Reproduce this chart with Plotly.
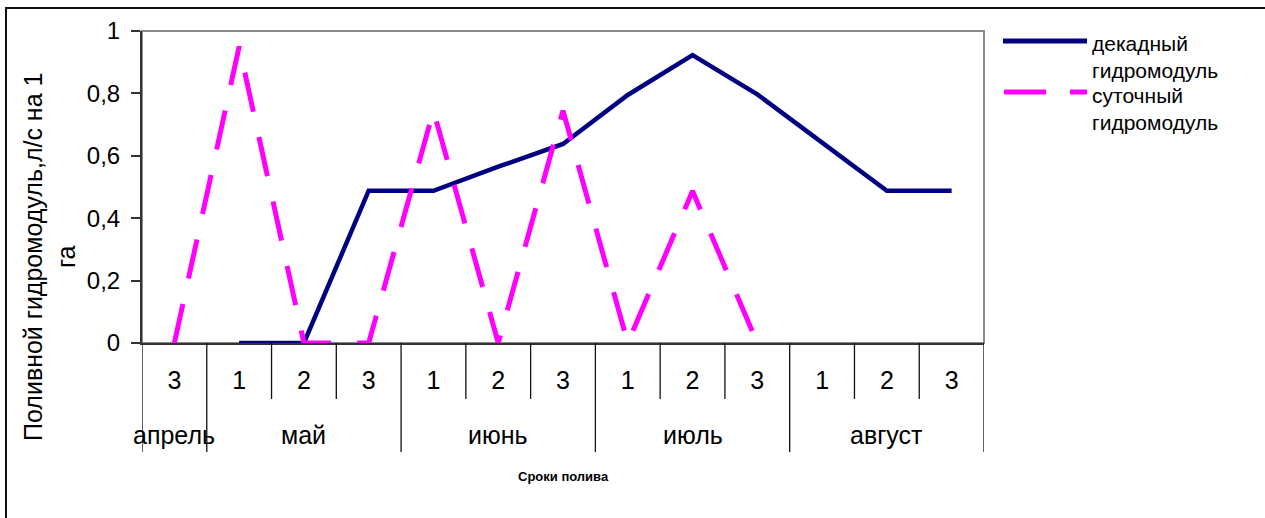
import plotly.graph_objects as go

# --- data -------------------------------------------------------------
months = ["апрель", "май", "июнь", "июль", "август"]
month_decades = [["3"], ["1", "2", "3"], ["1", "2", "3"], ["1", "2", "3"], ["1", "2", "3"]]
decade_labels = [d for group in month_decades for d in group]

# irrigation modulus, l/s per ha
decadal = [None, 0, 0, 0.488, 0.488, 0.565, 0.638, 0.795, 0.923, 0.797, 0.642, 0.488, 0.488]
daily = [0, 0.95, 0, 0, 0.745, 0, 0.745, 0, 0.487, 0, None, None, None]

y_ticks = [0, 0.2, 0.4, 0.6, 0.8, 1]

series_names = ["декадный<br>гидромодуль", "суточный<br>гидромодуль"]
x_title = "Сроки полива"
y_title = "Поливной гидромодуль,л/с на 1<br>га"

# --- geometry (pixels) ------------------------------------------------
W, H = 1265, 518
L, R, T, B = 142, 984, 31, 343

NAVY = "#000080"
MAGENTA = "#FF00FF"
FONT = "Arial, Liberation Sans, sans-serif"


def px_x(px):
    return (px - L) / (R - L)


def px_y(py):
    return (B - py) / (B - T)


x_idx = list(range(len(decade_labels)))

fig = go.Figure()
fig.add_trace(go.Scatter(
    x=x_idx, y=decadal, mode="lines", name="декадный гидромодуль",
    line=dict(color=NAVY, width=4.5), connectgaps=False, showlegend=False,
))
fig.add_trace(go.Scatter(
    x=x_idx, y=daily, mode="lines", name="суточный гидромодуль",
    line=dict(color=MAGENTA, width=5, dash="40px,26px"), connectgaps=False,
    showlegend=False,
))

shapes = []
# outer chart border
shapes.append(dict(type="rect", xref="paper", yref="paper",
                   x0=px_x(6), x1=px_x(1300), y0=px_y(600), y1=px_y(8),
                   line=dict(color="#111111", width=2), layer="below"))
# plot area frame (top/right show in grey)
shapes.append(dict(type="rect", xref="paper", yref="paper",
                   x0=0, x1=1, y0=0, y1=1,
                   line=dict(color="#8a8a8a", width=2), layer="below"))

# category table: decade separators and month separators
n = len(decade_labels)
boundaries = [k - 0.5 for k in range(n + 1)]
month_bounds = [-0.5]
pos = -0.5
for group in month_decades:
    pos += len(group)
    month_bounds.append(pos)
for b in boundaries:
    deep = b in month_bounds
    shapes.append(dict(type="line", xref="x", yref="paper",
                       x0=b, x1=b, y0=0, y1=px_y(452 if deep else 399),
                       line=dict(color="#111111", width=1.3)))

# legend samples
shapes.append(dict(type="line", xref="paper", yref="paper",
                   x0=px_x(1003), x1=px_x(1087), y0=px_y(41), y1=px_y(41),
                   line=dict(color=NAVY, width=5)))
shapes.append(dict(type="line", xref="paper", yref="paper",
                   x0=px_x(1004), x1=px_x(1087), y0=px_y(92), y1=px_y(92),
                   line=dict(color=MAGENTA, width=5, dash="42px,24px")))

annotations = []
# month labels centred under their decades
start = 0
for name, group in zip(months, month_decades):
    centre = start + (len(group) - 1) / 2
    annotations.append(dict(xref="x", yref="paper", x=centre, y=px_y(435),
                            text=name, showarrow=False, xanchor="center",
                            yanchor="middle",
                            font=dict(family=FONT, size=25, color="black")))
    start += len(group)

annotations.append(dict(xref="paper", yref="paper", x=0.5, y=px_y(476),
                        text="<b>" + x_title + "</b>", showarrow=False,
                        xanchor="center", yanchor="middle",
                        font=dict(family=FONT, size=13, color="black")))
annotations.append(dict(xref="paper", yref="paper", x=px_x(49), y=px_y(257),
                        text=y_title, textangle=-90, showarrow=False,
                        xanchor="center", yanchor="middle",
                        font=dict(family=FONT, size=25, color="black")))

# legend text
legend_rows = [(series_names[0], 57), (series_names[1], 109)]
for text, yc in legend_rows:
    annotations.append(dict(xref="paper", yref="paper", x=px_x(1090), y=px_y(yc),
                            text=text, showarrow=False, xanchor="left",
                            yanchor="middle", align="left",
                            font=dict(family=FONT, size=21, color="black")))

fig.update_layout(
    width=W, height=H,
    margin=dict(l=L, r=W - R, t=T, b=H - B, pad=0),
    paper_bgcolor="white", plot_bgcolor="white",
    separators=", ",
    showlegend=False,
    hovermode=False,
    shapes=shapes,
    annotations=annotations,
    xaxis=dict(
        range=[-0.5, n - 0.5], tickmode="array", tickvals=x_idx,
        ticktext=decade_labels, ticks="", showgrid=False, zeroline=False,
        showline=True, linecolor="#333333", linewidth=2,
        tickfont=dict(family=FONT, size=25, color="black"),
        ticklabelstandoff=14,
    ),
    yaxis=dict(
        range=[0, 1], tickmode="array", tickvals=y_ticks, ticks="outside",
        ticklen=9, tickwidth=1.5, tickcolor="#333333",
        showgrid=False, zeroline=False, showline=True,
        linecolor="#333333", linewidth=2,
        tickfont=dict(family=FONT, size=24, color="black"),
        ticklabelstandoff=6,
    ),
)

fig.write_html("out.html")
